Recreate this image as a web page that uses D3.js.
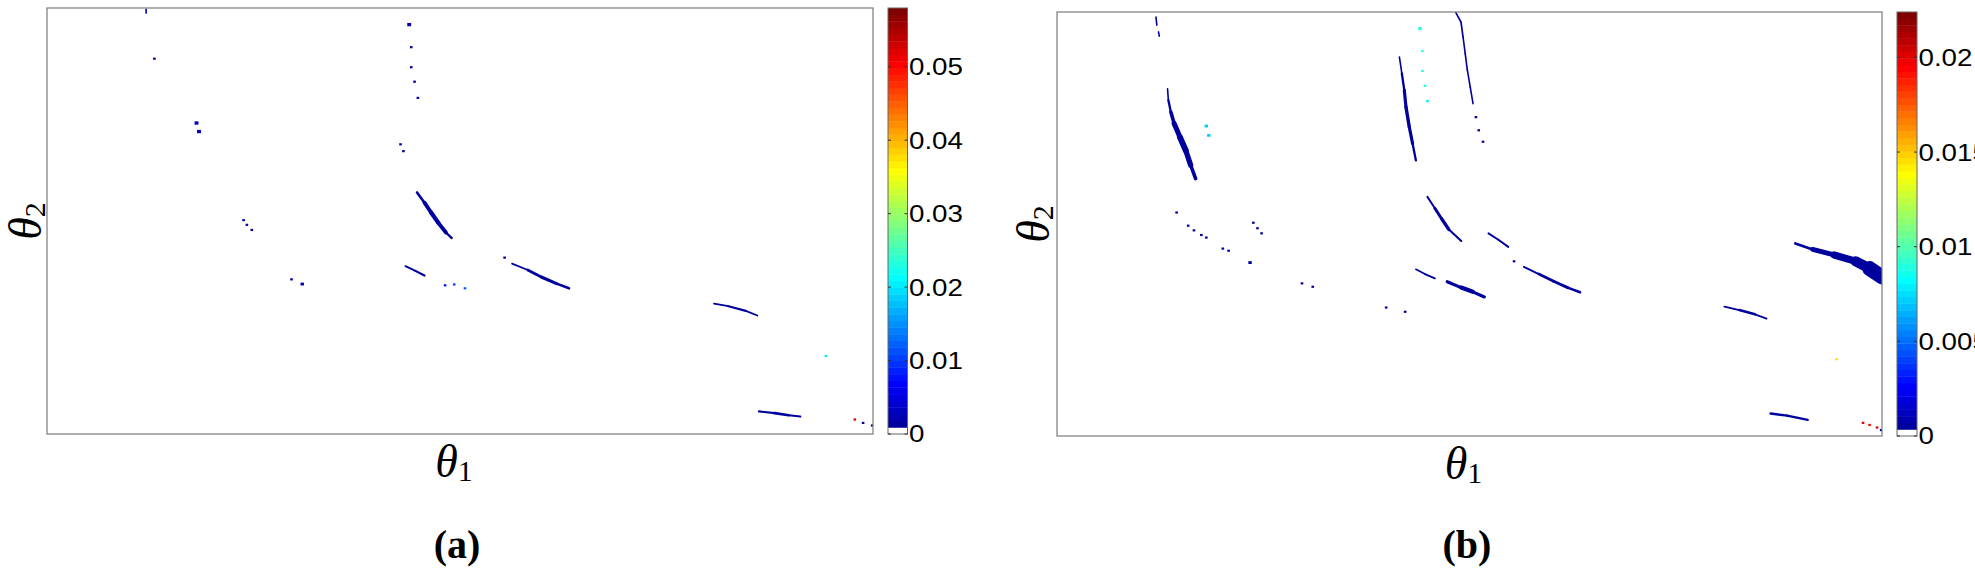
<!DOCTYPE html>
<html>
<head>
<meta charset="utf-8">
<script src="https://cdn.jsdelivr.net/npm/d3@7"></script>
<style>
  body { margin: 0; background: #fff; }
  svg { display: block; }
  .frame { fill: none; stroke: #7a7a7a; stroke-width: 1.2; }
  .cbFrame { fill: none; stroke: #666; stroke-width: 1; }
  .cbTick { stroke: #333; stroke-width: 1; }
  .cbLabel { font-family: "Liberation Sans", Arial, sans-serif; font-size: 23.5px; fill: #000; }
  .axisLabel { font-family: "Liberation Serif", "Times New Roman", serif; font-size: 46px; font-style: italic; fill: #000; }
  .axisLabel .sub { font-style: normal; font-size: 30px; }
  .caption { font-family: "Liberation Serif", "Times New Roman", serif; font-size: 40px; font-weight: bold; fill: #000; }
</style>
</head>
<body>
<div id="chart"></div>
<script>
// theta1 / theta2 are given as fractions of the plotted range
// (theta1 left->right, theta2 top->bottom)
// streak points: [theta1, theta2, band thickness in theta2 units]

// ---- panel (a) ----
var aMax = 0.058;
var aTicks = [0, 0.01, 0.02, 0.03, 0.04, 0.05];
var aTickLabels = ["0", "0.01", "0.02", "0.03", "0.04", "0.05"];
var aStreaks = [
    { v: 0.0015, pts: [[0.120, 0.003, 0.003], [0.120, 0.012, 0.003]] },
    { v: 0.0015, pts: [[0.448, 0.433, 0.004], [0.457, 0.457, 0.008], [0.465, 0.480, 0.010], [0.474, 0.505, 0.010], [0.483, 0.527, 0.008], [0.490, 0.540, 0.003]] },
    { v: 0.0015, pts: [[0.434, 0.606, 0.003], [0.446, 0.617, 0.006], [0.457, 0.628, 0.004]] },
    { v: 0.0015, pts: [[0.563, 0.600, 0.003], [0.582, 0.615, 0.005], [0.599, 0.632, 0.008], [0.617, 0.647, 0.007], [0.632, 0.658, 0.005]] },
    { v: 0.0015, pts: [[0.8075, 0.694, 0.003], [0.825, 0.700, 0.005], [0.846, 0.711, 0.005], [0.860, 0.722, 0.003]] },
    { v: 0.0015, pts: [[0.862, 0.947, 0.004], [0.881, 0.951, 0.006], [0.898, 0.956, 0.006], [0.912, 0.959, 0.004]] }
];
// dots: [theta1, theta2, value, size in cells]
var aDots = [
    [0.130, 0.119, 0.0015, 1], [0.181, 0.270, 0.003, 1.5], [0.184, 0.290, 0.003, 1.5],
    [0.4385, 0.039, 0.002, 1.5], [0.441, 0.092, 0.0015, 1], [0.441, 0.139, 0.0015, 1],
    [0.445, 0.173, 0.0015, 1], [0.449, 0.211, 0.0015, 1],
    [0.428, 0.320, 0.0015, 1], [0.4315, 0.336, 0.0015, 1],
    [0.238, 0.498, 0.003, 1], [0.242, 0.509, 0.0015, 1], [0.248, 0.521, 0.0015, 1],
    [0.296, 0.637, 0.0025, 1], [0.309, 0.648, 0.002, 1.3],
    [0.482, 0.651, 0.008, 1], [0.493, 0.649, 0.010, 1], [0.506, 0.658, 0.012, 1],
    [0.554, 0.586, 0.0015, 1], [0.943, 0.817, 0.020, 1],
    [0.978, 0.966, 0.052, 1], [0.988, 0.974, 0.0015, 1], [0.999, 0.980, 0.0015, 1]
];

// ---- panel (b) ----
var bMax = 0.0224;
var bTicks = [0, 0.005, 0.01, 0.015, 0.02];
var bTickLabels = ["0", "0.005", "0.01", "0.015", "0.02"];
var bStreaks = [
    { v: 0.0006, pts: [[0.120, 0.012, 0.003], [0.121, 0.031, 0.003]] },
    { v: 0.0006, pts: [[0.123, 0.047, 0.003], [0.124, 0.057, 0.003]] },
    { v: 0.0006, pts: [[0.134, 0.181, 0.003], [0.135, 0.208, 0.004], [0.138, 0.236, 0.007], [0.142, 0.263, 0.010], [0.149, 0.295, 0.014], [0.156, 0.326, 0.014], [0.162, 0.361, 0.011], [0.168, 0.393, 0.006]] },
    { v: 0.0006, pts: [[0.415, 0.106, 0.003], [0.418, 0.145, 0.004], [0.421, 0.185, 0.007], [0.423, 0.224, 0.008], [0.427, 0.271, 0.008], [0.431, 0.310, 0.007], [0.435, 0.350, 0.004]] },
    { v: 0.0006, pts: [[0.4836, 0.002, 0.004], [0.4897, 0.024, 0.004], [0.4922, 0.059, 0.004], [0.4948, 0.098, 0.0035], [0.4974, 0.137, 0.0035], [0.5009, 0.177, 0.003], [0.5043, 0.216, 0.003]] },
    { v: 0.0006, pts: [[0.449, 0.436, 0.003], [0.458, 0.463, 0.006], [0.466, 0.487, 0.008], [0.475, 0.513, 0.007], [0.490, 0.540, 0.003]] },
    { v: 0.0006, pts: [[0.523, 0.522, 0.003], [0.535, 0.537, 0.006], [0.547, 0.554, 0.003]] },
    { v: 0.0006, pts: [[0.566, 0.601, 0.003], [0.584, 0.618, 0.006], [0.602, 0.635, 0.007], [0.619, 0.650, 0.007], [0.634, 0.661, 0.005]] },
    { v: 0.0006, pts: [[0.435, 0.607, 0.003], [0.446, 0.618, 0.005], [0.458, 0.628, 0.004]] },
    { v: 0.0006, pts: [[0.473, 0.636, 0.005], [0.490, 0.650, 0.010], [0.504, 0.660, 0.010], [0.518, 0.672, 0.005]] },
    { v: 0.0006, pts: [[0.895, 0.546, 0.004], [0.916, 0.560, 0.009], [0.942, 0.573, 0.014], [0.968, 0.588, 0.020], [0.985, 0.605, 0.028], [1.0, 0.625, 0.042]] },
    { v: 0.0006, pts: [[0.809, 0.695, 0.003], [0.827, 0.703, 0.006], [0.846, 0.713, 0.006], [0.860, 0.723, 0.003]] },
    { v: 0.0006, pts: [[0.865, 0.947, 0.004], [0.885, 0.952, 0.007], [0.910, 0.962, 0.004]] }
];
var bDots = [
    [0.181, 0.269, 0.007, 1.3], [0.184, 0.291, 0.007, 1.3],
    [0.145, 0.473, 0.0006, 1], [0.159, 0.504, 0.0006, 1], [0.166, 0.515, 0.0006, 1],
    [0.175, 0.526, 0.0006, 1], [0.181, 0.532, 0.0006, 1], [0.201, 0.558, 0.0006, 1], [0.208, 0.563, 0.0006, 1],
    [0.238, 0.497, 0.0006, 1], [0.243, 0.510, 0.0006, 1], [0.248, 0.522, 0.0006, 1],
    [0.234, 0.591, 0.0006, 1.3], [0.297, 0.640, 0.0006, 1], [0.310, 0.648, 0.0006, 1],
    [0.399, 0.697, 0.0006, 1], [0.422, 0.707, 0.0006, 1],
    [0.440, 0.039, 0.0085, 1.3], [0.443, 0.092, 0.009, 1], [0.443, 0.139, 0.009, 1],
    [0.446, 0.174, 0.0085, 1], [0.449, 0.210, 0.008, 1],
    [0.5078, 0.248, 0.0006, 1], [0.5112, 0.279, 0.0006, 1], [0.5164, 0.306, 0.0006, 1],
    [0.554, 0.588, 0.0006, 1], [0.945, 0.819, 0.0145, 1],
    [0.977, 0.969, 0.020, 1], [0.985, 0.974, 0.019, 1], [0.994, 0.980, 0.020, 1], [0.999, 0.986, 0.0006, 1]
];

// MATLAB jet(64), first entry replaced by white
function jetMap(m) {
    var n = Math.ceil(m / 4);
    var u = [];
    for (var i = 1; i <= n; i++) u.push(i / n);
    for (var i = 1; i < n; i++) u.push(1);
    for (var i = n; i >= 1; i--) u.push(i / n);
    var off = Math.ceil(n / 2) - (m % 4 == 1 ? 1 : 0);
    var J = [];
    for (var i = 0; i < m; i++) J.push([0, 0, 0]);
    u.forEach(function (val, k) {
        var g = off + k + 1, r = g + n, b = g - n;
        if (r <= m) J[r - 1][0] = val;
        if (g <= m) J[g - 1][1] = val;
        if (b > 0) J[b - 1][2] = val;
    });
    var cols = J.map(function (c) {
        return d3.rgb(c[0] * 255, c[1] * 255, c[2] * 255).toString();
    });
    cols[0] = "#ffffff";
    return cols;
}
var cmap = jetMap(64);

function colorFor(v, max) {
    var idx = Math.floor(v / max * cmap.length);
    return cmap[Math.max(0, Math.min(cmap.length - 1, idx))];
}

var svg = d3.select("#chart").append("svg")
    .attr("width", 1975)
    .attr("height", 569);

var panels = [
    { id: "a", left: 47, top: 8, right: 873, bottom: 434, cbLeft: 888, cbRight: 907.5,
      max: aMax, ticks: aTicks, tickLabels: aTickLabels, streaks: aStreaks, dots: aDots,
      yLabelX: 41, caption: "(a)", captionX: 457 },
    { id: "b", left: 1057, top: 12, right: 1882, bottom: 436, cbLeft: 1897, cbRight: 1917,
      max: bMax, ticks: bTicks, tickLabels: bTickLabels, streaks: bStreaks, dots: bDots,
      yLabelX: 1049, caption: "(b)", captionX: 1467 }
];

var cellW = 2.6, cellH = 2.2;

panels.forEach(function (p) {
    var xScale = d3.scaleLinear().domain([0, 1]).range([p.left, p.right]);
    var yScale = d3.scaleLinear().domain([0, 1]).range([p.top, p.bottom]);
    var h = p.bottom - p.top;

    svg.append("clipPath").attr("id", "clip-" + p.id)
        .append("rect")
        .attr("x", p.left).attr("y", p.top)
        .attr("width", p.right - p.left).attr("height", h);

    var g = svg.append("g").attr("clip-path", "url(#clip-" + p.id + ")");

    // streak bands, segment by segment so the thickness can vary
    p.streaks.forEach(function (s) {
        var segs = d3.pairs(s.pts);
        g.selectAll(null)
            .data(segs)
            .enter()
            .append("line")
            .attr("x1", function (d) { return xScale(d[0][0]); })
            .attr("y1", function (d) { return yScale(d[0][1]); })
            .attr("x2", function (d) { return xScale(d[1][0]); })
            .attr("y2", function (d) { return yScale(d[1][1]); })
            .attr("stroke", colorFor(s.v, p.max))
            .attr("stroke-linecap", "round")
            .attr("stroke-width", function (d) { return Math.max(1.6, (d[0][2] + d[1][2]) / 2 * h); });
    });

    g.selectAll("rect.dot")
        .data(p.dots)
        .enter()
        .append("rect")
        .attr("class", "dot")
        .attr("x", function (d) { return xScale(d[0]) - cellW * d[3] / 2; })
        .attr("y", function (d) { return yScale(d[1]) - cellH * d[3] / 2; })
        .attr("width", function (d) { return cellW * d[3]; })
        .attr("height", function (d) { return cellH * d[3]; })
        .attr("fill", function (d) { return colorFor(d[2], p.max); });

    svg.append("rect")
        .attr("class", "frame")
        .attr("x", p.left).attr("y", p.top)
        .attr("width", p.right - p.left).attr("height", h);

    // colour bar
    var cScale = d3.scaleLinear().domain([0, p.max]).range([p.bottom, p.top]);
    var step = p.max / cmap.length;
    svg.selectAll(null)
        .data(cmap)
        .enter()
        .append("rect")
        .attr("x", p.cbLeft)
        .attr("width", p.cbRight - p.cbLeft)
        .attr("y", function (d, i) { return cScale((i + 1) * step); })
        .attr("height", function (d, i) { return cScale(i * step) - cScale((i + 1) * step) + 0.4; })
        .attr("fill", function (d) { return d; });

    svg.append("rect")
        .attr("class", "cbFrame")
        .attr("x", p.cbLeft).attr("y", p.top)
        .attr("width", p.cbRight - p.cbLeft).attr("height", h);

    p.ticks.forEach(function (t, i) {
        var y = cScale(t);
        svg.append("line").attr("class", "cbTick")
            .attr("x1", p.cbLeft).attr("x2", p.cbLeft + 3).attr("y1", y).attr("y2", y);
        svg.append("line").attr("class", "cbTick")
            .attr("x1", p.cbRight - 3).attr("x2", p.cbRight).attr("y1", y).attr("y2", y);
        // the source figure is stretched sideways, so the labels are too
        svg.append("text").attr("class", "cbLabel")
            .attr("transform", "translate(" + (p.cbRight + 1.5) + "," + y + ") scale(1.18,1)")
            .attr("dy", "0.36em")
            .text(p.tickLabels[i]);
    });

    // axis labels
    var xl = svg.append("text").attr("class", "axisLabel")
        .attr("x", (p.left + p.right) / 2 - 6)
        .attr("y", p.bottom + 43)
        .attr("text-anchor", "middle");
    xl.append("tspan").text("θ");
    xl.append("tspan").attr("class", "sub").attr("dy", 4).text("1");

    var yl = svg.append("text").attr("class", "axisLabel")
        .attr("transform", "translate(" + p.yLabelX + "," + ((p.top + p.bottom) / 2) + ") rotate(-90)")
        .attr("text-anchor", "middle");
    yl.append("tspan").text("θ");
    yl.append("tspan").attr("class", "sub").attr("dy", 4).text("2");

    svg.append("text").attr("class", "caption")
        .attr("x", p.captionX)
        .attr("y", 558)
        .attr("text-anchor", "middle")
        .text(p.caption);
});
</script>
</body>
</html>
